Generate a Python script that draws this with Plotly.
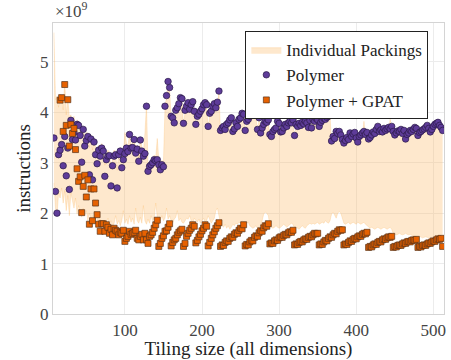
import plotly.graph_objects as go

# Tiling sizes (all dimensions)
tiling = list(range(8, 513, 2))

# values in units of 1e9 instructions
polymer = [
    3.49, 2.43, 2.00, 3.16, 3.25, 3.36, 2.94, 3.52, 2.74, 3.29,
    2.47, 3.84, 3.46, 3.60, 3.45, 3.76, 3.74, 3.54, 3.01, 3.66,
    3.33, 3.44, 3.52, 2.76, 3.47, 2.66, 3.41, 3.16, 2.98, 3.25,
    3.13, 3.29, 3.23, 2.73, 3.06, 3.13, 3.14, 2.54, 2.94, 3.13,
    3.16, 2.50, 3.16, 3.23, 2.90, 3.06, 3.18, 3.29, 3.22, 3.56,
    3.29, 3.30, 3.46, 3.19, 3.27, 3.03, 3.45, 3.23, 3.13, 3.18,
    4.12, 2.83, 2.93, 2.96, 3.00, 3.06, 3.04, 3.06, 2.96, 2.86,
    2.96, 2.92, 4.12, 4.33, 4.61, 4.49, 3.92, 3.89, 3.79, 4.04,
    4.09, 4.17, 4.29, 4.27, 3.78, 4.04, 4.12, 4.19, 4.06, 4.15,
    4.21, 4.02, 3.76, 3.92, 3.96, 4.02, 4.07, 4.15, 4.19, 4.15,
    3.72, 3.98, 4.02, 4.12, 4.17, 4.09, 4.20, 4.42, 3.64, 3.69,
    3.72, 3.66, 3.76, 3.79, 3.85, 3.89, 3.62, 3.67, 3.79, 3.72,
    3.86, 3.89, 3.98, 3.96, 3.64, 3.82, 3.86, 3.92, 3.96, 3.94,
    4.06, 3.95, 3.66, 3.89, 3.59, 3.69, 3.76, 3.82, 3.80, 3.85,
    3.56, 3.52, 3.62, 3.66, 3.69, 3.82, 3.78, 3.61, 3.62, 3.69,
    3.76, 3.72, 3.79, 3.82, 3.79, 3.85, 3.54, 3.76, 3.72, 3.78,
    3.74, 3.80, 3.77, 3.82, 3.79, 3.70, 3.84, 3.69, 3.86, 3.82,
    3.88, 3.85, 3.72, 3.80, 3.84, 3.88, 3.86, 3.90, 3.92, 3.98,
    3.43, 3.52, 3.48, 3.62, 3.58, 3.62, 3.55, 3.46, 3.39, 3.44,
    3.50, 3.46, 3.59, 3.52, 3.57, 3.60, 3.49, 3.41, 3.52, 3.55,
    3.59, 3.62, 3.56, 3.60, 3.47, 3.50, 3.55, 3.61, 3.58, 3.66,
    3.72, 3.62, 3.65, 3.61, 3.68, 3.64, 3.67, 3.70, 3.67, 3.72,
    3.62, 3.55, 3.59, 3.63, 3.62, 3.66, 3.58, 3.64, 3.47, 3.56,
    3.59, 3.64, 3.62, 3.66, 3.70, 3.68, 3.54, 3.60, 3.62, 3.65,
    3.67, 3.70, 3.74, 3.68, 3.61, 3.66, 3.72, 3.76, 3.78, 3.80,
    3.74, 3.70, 3.64,
]

packings_max = [
    5.58, 4.25, 4.32, 4.10, 4.35, 4.30, 4.05, 4.60, 3.95, 4.28,
    3.90, 3.95, 3.80, 3.92, 3.70, 3.85, 3.80, 3.65, 3.55, 3.72,
    3.50, 3.60, 3.58, 3.30, 3.55, 3.25, 3.48, 3.30, 3.10, 3.35,
    3.20, 3.38, 3.30, 2.95, 3.15, 3.25, 3.20, 2.90, 3.05, 3.25,
    3.20, 2.85, 3.25, 3.30, 3.00, 3.15, 3.60, 3.40, 3.30, 3.60,
    3.35, 3.40, 3.52, 3.25, 3.35, 3.10, 3.50, 3.30, 3.20, 3.58,
    4.15, 2.95, 3.00, 3.05, 3.08, 3.15, 3.10, 3.48, 3.05, 2.95,
    3.05, 3.00, 4.08, 4.28, 4.55, 4.45, 3.88, 3.85, 3.75, 4.00,
    4.05, 4.12, 4.25, 4.22, 3.74, 4.00, 4.08, 4.14, 4.02, 4.10,
    4.16, 3.98, 3.72, 3.88, 3.92, 3.98, 4.02, 4.10, 4.14, 4.10,
    3.68, 3.94, 3.98, 4.08, 4.12, 4.05, 4.15, 4.38, 3.60, 3.65,
    3.68, 3.62, 3.72, 3.75, 3.80, 3.84, 3.58, 3.63, 3.75, 3.68,
    3.82, 3.85, 3.93, 3.92, 3.60, 3.78, 3.82, 3.88, 3.92, 3.90,
    4.02, 3.90, 3.62, 3.84, 3.55, 3.65, 3.72, 3.78, 3.76, 3.80,
    3.52, 3.48, 3.58, 3.62, 3.65, 3.78, 3.74, 3.57, 3.58, 3.65,
    3.72, 3.68, 3.75, 3.78, 3.75, 3.80, 3.50, 3.72, 3.68, 3.74,
    3.70, 3.76, 3.73, 3.78, 3.75, 3.66, 3.80, 3.65, 3.82, 3.78,
    3.84, 3.80, 3.68, 3.76, 3.80, 3.84, 3.82, 3.86, 3.88, 3.94,
    3.38, 3.47, 3.44, 3.57, 3.54, 3.58, 3.50, 3.42, 3.35, 3.40,
    3.46, 3.42, 3.55, 3.48, 3.52, 3.56, 3.45, 3.37, 3.48, 3.50,
    3.55, 3.82, 3.52, 3.56, 3.43, 3.46, 3.50, 3.57, 3.54, 3.62,
    3.68, 3.58, 3.60, 3.57, 3.64, 3.60, 3.62, 3.66, 3.86, 3.68,
    3.58, 3.51, 3.55, 3.59, 3.58, 3.62, 3.54, 3.60, 3.43, 3.52,
    3.55, 3.60, 3.58, 3.62, 3.66, 3.64, 3.50, 3.56, 3.58, 3.61,
    3.63, 3.66, 3.70, 3.64, 3.57, 3.62, 3.68, 3.72, 3.74, 3.76,
    3.70, 3.66, 3.60,
]

packings_min = [
    2.60, 2.10, 1.95, 2.40, 2.30, 2.50, 2.20, 2.45, 2.05, 2.35,
    1.95, 2.40, 2.25, 2.10, 2.30, 1.98, 2.15, 2.05, 1.92, 2.10,
    1.95, 2.05, 1.85, 2.00, 1.88, 1.95, 1.82, 1.95, 1.85, 1.80,
    1.88, 1.78, 1.85, 1.75, 1.82, 1.90, 1.76, 1.85, 1.72, 1.80,
    1.95, 1.78, 1.85, 1.75, 1.85, 2.05, 1.80, 1.88, 1.78, 1.95,
    1.82, 1.90, 1.78, 2.10, 1.85, 1.80, 1.92, 1.80, 2.15, 1.85,
    1.78, 1.88, 1.80, 1.95, 1.85, 1.90, 2.20, 1.92, 1.80, 1.85,
    1.95, 1.85, 1.90, 2.10, 1.88, 1.95, 1.85, 1.80, 1.88, 1.92,
    2.05, 1.85, 1.90, 1.82, 1.80, 1.85, 1.90, 1.88, 1.95, 1.85,
    1.80, 1.90, 1.85, 1.82, 1.88, 1.80, 1.85, 1.90, 1.82, 1.85,
    1.95, 1.88, 1.80, 1.85, 1.90, 2.05, 2.10, 1.95, 1.80, 1.75,
    1.72, 1.78, 1.70, 1.75, 1.68, 1.72, 1.78, 1.75, 1.80, 1.78,
    1.82, 1.80, 1.85, 1.82, 1.78, 1.80, 1.82, 1.75, 1.72, 1.70,
    1.72, 1.75, 1.70, 1.72, 1.75, 1.85, 1.98, 2.02, 2.00, 1.95,
    1.75, 1.72, 1.70, 1.72, 1.75, 1.72, 1.70, 1.72, 1.75, 1.78,
    1.75, 1.72, 1.75, 1.78, 1.80, 1.78, 1.70, 1.72, 1.70, 1.68,
    1.72, 1.75, 1.72, 1.70, 1.75, 1.78, 1.80, 1.78, 1.80, 1.78,
    1.80, 1.82, 1.78, 1.80, 1.82, 1.80, 1.85, 1.82, 1.80, 1.85,
    1.98, 2.02, 1.95, 1.90, 2.00, 2.03, 2.00, 1.90, 1.80, 1.78,
    1.80, 1.82, 1.78, 1.80, 1.82, 1.80, 1.78, 1.82, 1.80, 1.78,
    1.80, 1.82, 1.78, 1.75, 1.72, 1.70, 1.72, 1.70, 1.68, 1.70,
    1.72, 1.70, 1.68, 1.70, 1.72, 1.70, 1.68, 1.70, 1.72, 1.68,
    1.60, 1.58, 1.57, 1.58, 1.60, 1.58, 1.57, 1.58, 1.60, 1.58,
    1.57, 1.58, 1.56, 1.54, 1.52, 1.53, 1.52, 1.54, 1.52, 1.51,
    1.52, 1.53, 1.52, 1.51, 1.52, 1.54, 1.53, 1.52, 1.51, 1.52,
    1.53, 1.52, 1.54,
]

polymer_gpat = [
    None, None, None, None, 4.24, 4.29, 3.62, 4.55, 3.74, 4.25,
    3.33, 3.76, 3.58, 3.68, 3.26, 2.88, 2.63, 2.72, 2.01, 2.53,
    2.75, 2.32, 2.66, 1.78, 2.48, 1.85, 2.48, 2.20, 1.97, 1.78,
    1.64, 1.79, 1.79, 1.64, 1.77, 1.72, 1.60, 1.68, 1.57, 1.70,
    1.66, 1.64, 1.57, 1.62, 1.60, 1.66, 1.44, 1.50, 1.54, 1.64,
    1.58, 1.60, 1.62, 1.66, 1.50, 1.47, 1.54, 1.58, 1.47, 1.60,
    1.47, 1.40, 1.54, 1.57, 1.62, 1.70, 1.77, 1.86, 1.34, 1.40,
    1.50, 1.55, 1.64, 1.65, 1.72, 1.79, 1.35, 1.42, 1.47, 1.50,
    1.57, 1.62, 1.65, 1.68, 1.34, 1.40, 1.54, 1.60, 1.66, 1.70,
    1.77, 1.74, 1.41, 1.46, 1.53, 1.58, 1.65, 1.70, 1.77, 1.74,
    1.35, 1.42, 1.50, 1.57, 1.63, 1.70, 1.75, 1.81, 1.34, 1.37,
    1.36, 1.42, 1.45, 1.44, 1.50, 1.53, 1.52, 1.58, 1.61, 1.60,
    1.66, 1.70, 1.69, 1.77, 1.35, 1.38, 1.37, 1.43, 1.46, 1.45,
    1.52, 1.55, 1.54, 1.61, 1.65, 1.64, 1.71, 1.75, 1.74, 1.79,
    1.39, 1.41, 1.40, 1.45, 1.47, 1.46, 1.51, 1.53, 1.52, 1.56,
    1.58, 1.57, 1.61, 1.63, 1.62, 1.66, 1.37, 1.39, 1.38, 1.42,
    1.44, 1.43, 1.47, 1.49, 1.48, 1.52, 1.54, 1.53, 1.57, 1.60,
    1.59, 1.60, 1.37, 1.39, 1.38, 1.43, 1.46, 1.45, 1.50, 1.53,
    1.52, 1.57, 1.60, 1.59, 1.64, 1.67, 1.66, 1.67, 1.37, 1.39,
    1.38, 1.42, 1.45, 1.44, 1.48, 1.50, 1.49, 1.53, 1.55, 1.54,
    1.58, 1.60, 1.59, 1.62, 1.32, 1.34, 1.33, 1.37, 1.39, 1.38,
    1.42, 1.44, 1.43, 1.47, 1.49, 1.48, 1.51, 1.53, 1.52, 1.54,
    1.32, 1.34, 1.33, 1.36, 1.37, 1.36, 1.39, 1.41, 1.40, 1.43,
    1.44, 1.43, 1.46, 1.47, 1.46, 1.48, 1.32, 1.34, 1.33, 1.36,
    1.37, 1.36, 1.39, 1.41, 1.40, 1.43, 1.45, 1.44, 1.47, 1.49,
    1.48, 1.50, 1.34,
]

x_ticks = [100, 200, 300, 400, 500]
y_ticks = [0, 1, 2, 3, 4, 5]

FONT = "Liberation Serif, DejaVu Serif, serif"
edge = "rgba(253,184,99,0.45)"

fig = go.Figure()
fig.add_trace(go.Scatter(
    x=tiling, y=packings_min, mode="lines", legendgroup="pack",
    line=dict(width=0.6, color=edge), showlegend=False, hoverinfo="skip"))
fig.add_trace(go.Scatter(
    x=tiling, y=packings_max, mode="lines", fill="tonexty", legendgroup="pack",
    fillcolor="rgba(253,184,99,0.32)", line=dict(width=0.6, color=edge),
    name="Individual Packings"))
fig.add_trace(go.Scatter(
    x=tiling, y=polymer, mode="markers", name="Polymer", legendgroup="poly",
    marker=dict(symbol="circle", size=6.5, color="#5e3c99",
                line=dict(width=0.7, color="#2b1a48"))))
fig.add_trace(go.Scatter(
    x=tiling, y=polymer_gpat, mode="markers", name="Polymer + GPAT",
    legendgroup="gpat",
    marker=dict(symbol="square", size=6, color="#e66101",
                line=dict(width=0.7, color="#5a3418"))))

fig.update_layout(
    width=451, height=360,
    margin=dict(l=53, r=7, t=23, b=46, autoexpand=False),
    paper_bgcolor="white", plot_bgcolor="white",
    font=dict(family=FONT, color="#333333", size=16),
    showlegend=True,
    legend=dict(x=0.96, y=0.972, xanchor="right", yanchor="top",
                traceorder="normal",
                bgcolor="white", bordercolor="#222222", borderwidth=1,
                font=dict(family=FONT, size=17, color="#222222"),
                tracegroupgap=3, itemwidth=30),
    xaxis=dict(range=[6.8, 513.8], tickvals=x_ticks, showgrid=True,
               gridcolor="#ececec", gridwidth=1, zeroline=False,
               showline=True, mirror=True, linecolor="#d4d4d4", linewidth=1.2,
               ticks="", tickfont=dict(family=FONT, size=17, color="#444444"),
               automargin=False,
               title=dict(text="Tiling size (all dimensions)",
                          font=dict(family=FONT, size=19, color="#222222"),
                          standoff=2)),
    yaxis=dict(range=[0, 5.77], tickvals=y_ticks, showgrid=True,
               gridcolor="#ececec", gridwidth=1, zeroline=False,
               showline=True, mirror=True, linecolor="#d4d4d4", linewidth=1.2,
               ticks="", tickfont=dict(family=FONT, size=17, color="#444444"),
               automargin=False,
               title=dict(text="instructions",
                          font=dict(family=FONT, size=19, color="#222222"),
                          standoff=4)),
    annotations=[dict(text="×10<sup>9</sup>", xref="paper", yref="paper",
                      x=0.0, y=1.0, xanchor="left", yanchor="bottom",
                      showarrow=False,
                      font=dict(family=FONT, size=17, color="#444444"))],
)

fig.write_html("out.html", config={"displayModeBar": False},
               post_script="document.body.style.margin='0px';")
